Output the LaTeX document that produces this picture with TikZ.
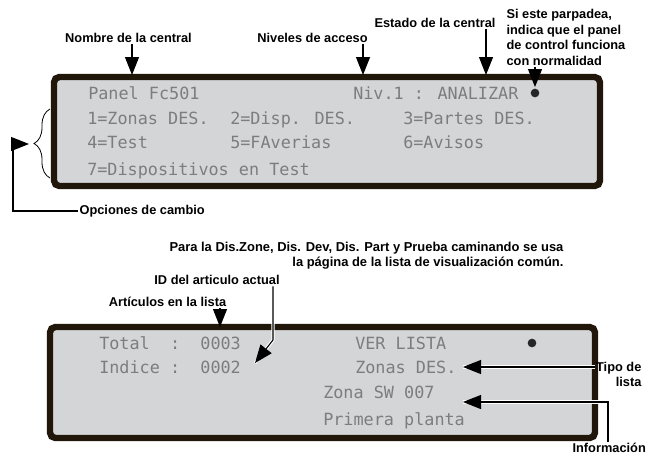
\documentclass[tikz,border=0pt]{standalone}
\usepackage{fontspec}
\setmainfont{Liberation Sans}
\newfontfamily\lcdfont{DejaVu Sans Mono}
\usepackage{tikz}
\usetikzlibrary{positioning, arrows.meta, decorations.pathreplacing}
\usepackage{xcolor}
\definecolor{panelborder}{RGB}{32, 22, 10}
\definecolor{panelfill}{RGB}{212, 213, 215}
\definecolor{lcdgray}{RGB}{125, 125, 125}

\begin{document}
\begin{tikzpicture}[
    x=0.75pt, y=-0.75pt,
    panel/.style={rectangle, draw=panelborder, fill=panelfill, line width=4.8pt, rounded corners=4pt},
    lcd/.style={anchor=base west, inner sep=0pt, text=lcdgray, font=\lcdfont\fontsize{12.6}{14}\selectfont},
    callout/.style={font=\bfseries\fontsize{9.6}{11.6}\selectfont, inner sep=1pt},
    arrow/.style={-{Triangle[length=13.5pt, width=10.5pt]}, line width=0.8pt},
    halo/.style={preaction={draw=white, line width=2.4pt, arrows=-}},
    dot/.style={circle, fill=black!85, inner sep=0pt, minimum size=6.5pt},
    curly/.style={decorate, decoration={brace, amplitude=12pt, aspect=0.5}, line width=0.6pt}
]
    \useasboundingbox (0,0) rectangle (646,454);

    % panels
    \node[panel, minimum width=409.5pt, minimum height=81.75pt] (toppanel) at (327,131.5) {};
    \node[panel, minimum width=408.75pt, minimum height=83.25pt] (listpanel) at (322.5,382.5) {};

    % upper display
    \node[lcd] (pname) at (88,99) {Panel Fc501};
    \node[lcd] (level) at (353,99) {Niv.1 : ANALIZAR};
    \node[dot] (blink) at (535,93) {};
    \node[lcd] (opt1) at (87,124) {1=Zonas DES.};
    \node[lcd] (opt2) at (230,124) {2=Disp. DES.};
    \node[lcd] (opt3) at (403,124) {3=Partes DES.};
    \node[lcd] (opt4) at (87,148) {4=Test};
    \node[lcd] (opt5) at (230,148) {5=FAverias};
    \node[lcd] (opt6) at (403,148) {6=Avisos};
    \node[lcd] (opt7) at (87,175) {7=Dispositivos en Test};

    % list display
    \node[lcd] (total) at (99,349) {Total~~:~~0003};
    \node[lcd] (index) at (99,373) {Indice~:~~0002};
    \node[lcd] (view) at (355,349) {VER LISTA};
    \node[dot] (blink2) at (532,343) {};
    \node[lcd] (ltype) at (355,373) {Zonas DES.};
    \node[lcd] (zone) at (323,398) {Zona SW 007};
    \node[lcd] (place) at (323,425) {Primera planta};

    % callouts
    \node[callout] (namelbl) at (128.5,38) {Nombre de la central};
    \node[callout] (levellbl) at (312.5,38) {Niveles de acceso};
    \node[callout] (statelbl) at (435,23) {Estado de la central};
    \node[callout, anchor=north west, align=left] (blinklbl) at (505,8) {Si este parpadea,\\indica que el panel\\de control funciona\\con normalidad};
    \node[callout, anchor=west] (optlbl) at (78,211) {Opciones de cambio};
    \node[callout, anchor=east, align=right, font=\bfseries\fontsize{9.7}{11.25}\selectfont] (listlbl) at (565,255.5) {Para la Dis.Zone, Dis. Dev, Dis. Part y Prueba caminando se usa\\la página de la lista de visualización común.};
    \node[callout] (idlbl) at (217,280) {ID del articulo actual};
    \node[callout] (artlbl) at (167.5,302) {Artículos en la lista};
    \node[callout, anchor=east, align=right] (typelbl) at (643,374.5) {Tipo de\\lista};
    \node[callout, anchor=base west] (infolbl) at (571,452.5) {Información};

    % arrow targets
    \coordinate (namept) at (132,75);
    \coordinate (levelpt) at (363,75);
    \coordinate (statept) at (486,75);
    \coordinate (blinkpt) at (535,87);
    \coordinate (bend) at (13,144);
    \coordinate (bracetip) at (29,144);
    \coordinate (artpt) at (220,327);
    \coordinate (idbend) at (273,340);
    \coordinate (idpt) at (255,363);
    \coordinate (typept) at (463,367);
    \coordinate (infobend) at (608,402);
    \coordinate (infopt) at (463,402);

    \draw[curly] (50,178) -- (50,109);

    \draw[arrow] (namelbl.south -| namept) -- (namept);
    \draw[arrow] (levellbl.south -| levelpt) -- (levelpt);
    \draw[arrow] (statelbl.south -| statept) -- (statept);
    \draw[arrow] (blinklbl.south -| blinkpt) -- (blinkpt);
    \draw[arrow] (optlbl.west) -| (bend) -- (bracetip);
    \draw[arrow] (artlbl.south -| artpt) -- (artpt);
    \draw[arrow, halo] (idlbl.south -| idbend) -- (idbend) -- (idpt);
    \draw[arrow, halo] (typelbl.west |- typept) -- (typept);
    \draw[arrow, halo] (infolbl.north -| infobend) -- (infobend) -- (infopt);
\end{tikzpicture}
\end{document}
